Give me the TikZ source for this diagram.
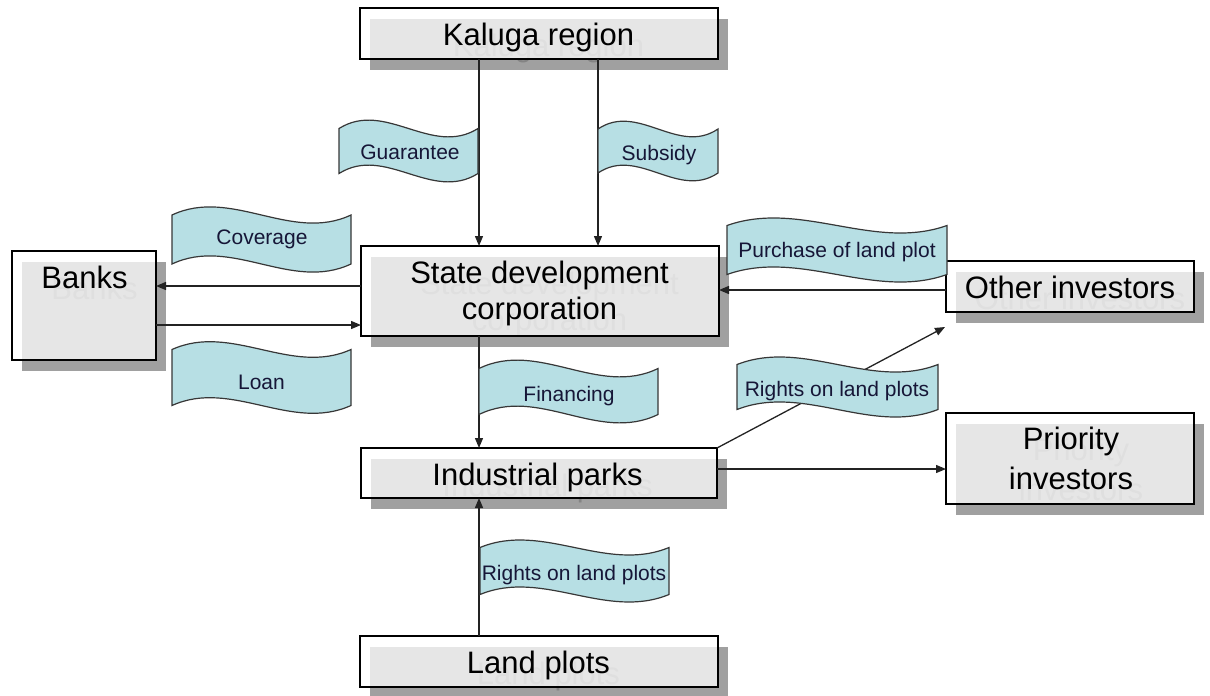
\documentclass[tikz,border=0pt]{standalone}
\usepackage{fontspec}
\setmainfont{Liberation Sans}
\usetikzlibrary{arrows.meta,calc}
\pgfdeclarelayer{shadowlayer}
\pgfdeclarelayer{ghostlayer}
\pgfsetlayers{shadowlayer,ghostlayer,main}
\definecolor{shadowgray}{RGB}{160,160,160}
\definecolor{ghostgray}{RGB}{132,132,132}
\definecolor{bannerfill}{RGB}{183,223,228}
\definecolor{bannerline}{RGB}{55,55,55}
\definecolor{labelink}{RGB}{22,22,55}
\definecolor{lineink}{RGB}{35,35,35}
\tikzset{
  boxnode/.style={draw=black, line width=1.3pt, fill=white, fill opacity=0.74, draw opacity=1, inner sep=0pt, outer sep=0pt},
  boxtext/.style={font=\fontsize{31}{37}\selectfont, inner sep=0pt, anchor=base, text=black},
  ghosttext/.style={boxtext, text=ghostgray},
  bannershape/.style={draw=bannerline, line width=1.2pt, fill=bannerfill},
  bannertext/.style={font=\fontsize{21}{25}\selectfont, inner sep=0pt, anchor=base, text=labelink},
  arr/.style={draw=lineink, line width=1.3pt, -{Triangle[length=10pt,width=8pt]}},
}
\newcommand\boxlabel[4]{%
  \node[boxtext] (#1) at (#2,#3) {#4};
  \begin{pgfonlayer}{ghostlayer}\node[ghosttext] (#1g) at ({#2+10},{#3+11}) {#4};\end{pgfonlayer}}
\newcommand\wbanner[5]{%
  \draw[bannershape] (#1,#3) .. controls ({#1+(#2-#1)/3},{#3-#5}) and ({#1+2*(#2-#1)/3},{#3+#5}) .. (#2,#3)
    -- (#2,{#3+#4}) .. controls ({#1+2*(#2-#1)/3},{#3+#4+#5}) and ({#1+(#2-#1)/3},{#3+#4-#5}) .. (#1,{#3+#4}) -- cycle;}
\begin{document}
\begin{tikzpicture}[x=1pt,y=-1pt]
\useasboundingbox (0,0) rectangle (1210,696);
% boxes
\node[boxnode, minimum width=358pt, minimum height=51pt] (kal) at (539,33.5) {};
\node[boxnode, minimum width=144pt, minimum height=109pt] (banks) at (84,305.5) {};
\node[boxnode, minimum width=358pt, minimum height=90pt] (sdc) at (540,291) {};
\node[boxnode, minimum width=248pt, minimum height=51pt] (other) at (1070,286.5) {};
\node[boxnode, minimum width=356pt, minimum height=50pt] (ip) at (539,473) {};
\node[boxnode, minimum width=358pt, minimum height=51pt] (lp) at (539,661.5) {};
\node[boxnode, minimum width=248pt, minimum height=91pt] (pri) at (1070,458.5) {};
\begin{pgfonlayer}{shadowlayer}
\foreach \n in {kal,banks,sdc,other,ip,lp,pri}
  \fill[shadowgray] ($(\n.north west)+(10,11)$) rectangle ($(\n.south east)+(10,11)$);
\end{pgfonlayer}
% box texts
\boxlabel{kalt}{538.5}{45}{Kaluga region}
\boxlabel{bankst}{84.5}{288}{Banks}
\boxlabel{sdct}{539.5}{283}{State development}
\boxlabel{sdctb}{539.5}{319}{corporation}
\boxlabel{othert}{1070}{298}{Other investors}
\boxlabel{ipt}{537.5}{485}{Industrial parks}
\boxlabel{lpt}{538.5}{673}{Land plots}
\boxlabel{prit}{1071}{449}{Priority}
\boxlabel{pritb}{1071}{489}{investors}
% connectors
\coordinate (oiend) at (945,327);
\draw[arr] ([xshift=-60pt]kal.south) -- ([xshift=-60pt]kal.south |- sdc.north);
\draw[arr] ([xshift=59pt]kal.south) -- ([xshift=59pt]kal.south |- sdc.north);
\draw[arr] ([yshift=5pt]sdc.west) -- ([yshift=5pt]sdc.west -| banks.east);
\draw[arr] ([yshift=-34pt]sdc.west -| banks.east) -- ([yshift=-34pt]sdc.west);
\draw[arr] ([yshift=-3.5pt]other.west) -- ([yshift=-3.5pt]other.west -| sdc.east);
\draw[arr] ([xshift=-61pt]sdc.south) -- ([xshift=-61pt]sdc.south |- ip.north);
\draw[arr] ([xshift=-60pt]lp.north) -- ([xshift=-60pt]lp.north |- ip.south);
\draw[arr] (ip.north east) -- (oiend);
\draw[arr] ([yshift=4pt]ip.east) -- ([yshift=4pt]ip.east -| pri.west);
% banners
\wbanner{339}{478}{128.5}{45}{29}
\node[bannertext] (gua) at (410,159.5) {Guarantee};
\wbanner{598}{718}{129}{44}{27}
\node[bannertext] (sub) at (659,160) {Subsidy};
\wbanner{172}{351}{215}{49}{28}
\node[bannertext] (cov) at (262,244) {Coverage};
\wbanner{172}{351}{349.5}{56}{27}
\node[bannertext] (loan) at (261.5,389) {Loan};
\wbanner{727}{947}{225.5}{49}{26}
\node[bannertext] (pur) at (837,257) {Purchase of land plot};
\wbanner{737}{938}{364.5}{45}{26}
\node[bannertext] (rlp) at (837,396) {Rights on land plots};
\wbanner{479}{658}{368.5}{46}{29}
\node[bannertext] (fin) at (569,401) {Financing};
\wbanner{480}{669}{547.5}{47}{26}
\node[bannertext] (rlp2) at (574,580) {Rights on land plots};
\end{tikzpicture}
\end{document}
